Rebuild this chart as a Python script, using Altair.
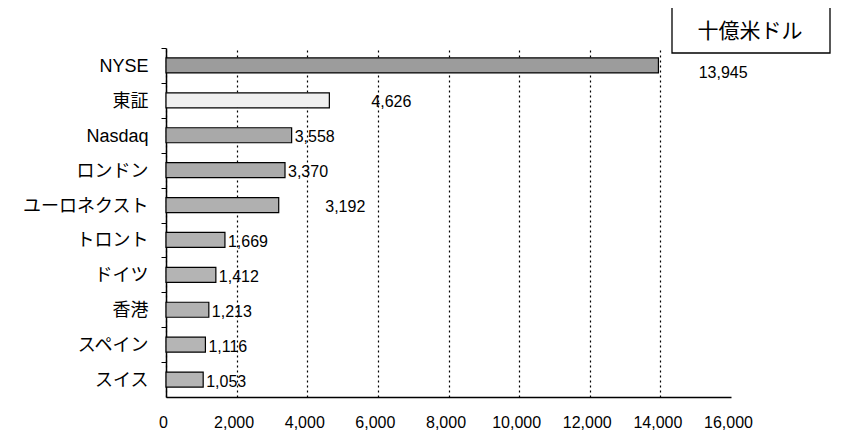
import altair as alt
import pandas as pd

# ---- data ----
exchanges = ["NYSE", "東証", "Nasdaq", "ロンドン", "ユーロネクスト",
             "トロント", "ドイツ", "香港", "スペイン", "スイス"]
values = [13945, 4626, 3558, 3370, 3192, 1669, 1412, 1213, 1116, 1053]
# where each value label is anchored (data units, as placed in the reference)
label_anchor = [15000, 5730, 3558, 3370, 4425, 1669, 1412, 1213, 1116, 1053]
bar_fill = ["#9c9c9c", "#efefef", "#a9a9a9", "#ababab", "#b0b0b0",
            "#b2b2b2", "#b4b4b4", "#b2b2b2", "#b5b5b5", "#b5b5b5"]
x_ticks = [0, 2000, 4000, 6000, 8000, 10000, 12000, 14000, 16000]
unit_label = "十億米ドル"

df = pd.DataFrame({
    "exchange": exchanges,
    "value": values,
    "anchor": label_anchor,
    "fill": bar_fill,
})
df["label"] = [f"{v:,}" for v in values]

FONT = "Liberation Sans, 'Noto Sans CJK JP', sans-serif"
JFONT = "'Noto Sans CJK JP', sans-serif"
W, H = 565, 349
STEP = H / len(exchanges)

yenc = alt.Y(
    "exchange:N", sort=exchanges, title=None,
    scale=alt.Scale(paddingInner=0, paddingOuter=0),
    axis=alt.Axis(
        domainColor="black", domainWidth=1.5,
        ticks=True, tickColor="black", tickSize=5, tickWidth=1,
        tickOffset=-STEP / 2, labelOffset=STEP / 2 + 1,
        labelFont=FONT, labelFontSize=18, labelColor="black",
        labelPadding=13, grid=False,
    ),
)

xenc = alt.X(
    "value:Q", title=None,
    scale=alt.Scale(domain=[0, 16000], nice=False),
    axis=alt.Axis(
        values=x_ticks, format=",d",
        domainColor="black", domainWidth=1.5,
        ticks=False,
        labelFont=FONT, labelFontSize=16, labelColor="black",
        labelPadding=17, labelOffset=-3,
        labelOverlap=False, labelBound=False, labelFlush=False,
        grid=True, gridColor="black", gridDash=[2, 3], gridWidth=1.2,
        gridOpacity={"condition": {"test": "datum.value >= 16000", "value": 0}, "value": 1},
    ),
)

bars = alt.Chart(df).mark_bar(size=15, stroke="black", strokeWidth=1.2).encode(
    y=yenc, x=xenc, fill=alt.Fill("fill:N", scale=None)
)

labels = alt.Chart(df).transform_filter("datum.exchange !== 'NYSE'").mark_text(
    align="left", baseline="middle", dx=3, dy=2, font=FONT, fontSize=16, color="black"
).encode(y=alt.Y("exchange:N", sort=exchanges), x=alt.X("anchor:Q"), text="label:N")

label_nyse = alt.Chart(df).transform_filter("datum.exchange === 'NYSE'").mark_text(
    align="left", baseline="middle", dx=3, dy=8, font=FONT, fontSize=16, color="black"
).encode(y=alt.Y("exchange:N", sort=exchanges), x=alt.X("anchor:Q"), text="label:N")

unit_df = pd.DataFrame({"t": [unit_label]})
box = alt.Chart(unit_df).mark_rect(fill="white", stroke="black", strokeWidth=1.3).encode(
    x=alt.value(506), x2=alt.value(664), y=alt.value(-44), y2=alt.value(5)
)
box_text = alt.Chart(unit_df).mark_text(
    font=JFONT, fontSize=21, align="center", baseline="middle", color="black"
).encode(x=alt.value(584), y=alt.value(-16), text="t:N")

chart = alt.layer(bars, labels, label_nyse, box, box_text).properties(
    width=W, height=H,
    autosize=alt.AutoSizeParams(type="none"),
    padding={"left": 158, "top": 40, "right": 102, "bottom": 36},
    background="white",
).configure_view(stroke=None)

chart.save("out.html", embed_options={"renderer": "svg", "actions": False})
